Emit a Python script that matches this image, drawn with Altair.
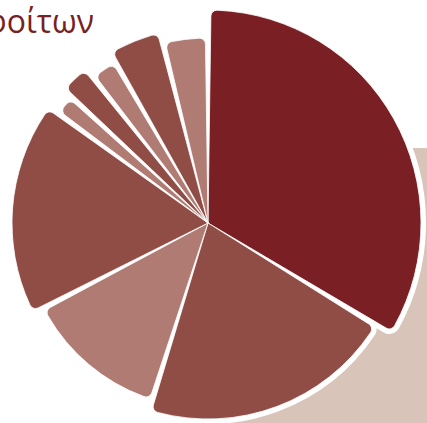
import altair as alt
import pandas as pd
import math

# --- data ---
categories = ["Α", "Β", "Γ", "Δ", "Ε", "Ζ", "Η", "Θ", "Ι"]
values = [33.6, 21.1, 12.5, 17.6, 1.8, 2.5, 2.3, 4.4, 3.9]
groups = ["dark", "mid", "light", "mid", "light", "mid", "light", "mid", "light"]
title_text = "αποφοίτων"

df = pd.DataFrame({
    "cat": categories,
    "value": values,
    "group": groups,
    "idx": list(range(len(categories))),
})

group_domain = ["dark", "mid", "light"]
color_scale = alt.Scale(domain=group_domain, range=["#7a1f23", "#8f4d46", "#b07b72"])
theta_scale = alt.Scale(domain=[0, 1], range=[0, 2 * math.pi])

CX, CY = 208, 223

base = alt.Chart(df).transform_stack(
    stack="value", as_=["v0", "v1"], groupby=[],
    sort=[alt.SortField("idx", order="ascending")], offset="normalize",
).transform_calculate(
    r="datum.group == 'dark' ? 213 : (datum.group == 'mid' ? 196 : 185)"
).encode(
    theta=alt.Theta("v0:Q", scale=theta_scale, stack=None),
    theta2="v1:Q",
    radius=alt.Radius("r:Q", scale=None),
    x=alt.value(CX),
    y=alt.value(CY),
)

halo = base.mark_arc(
    fill="white", stroke="white", strokeWidth=10, strokeJoin="round",
    padAngle=0.028, cornerRadius=6,
)

slices = base.mark_arc(
    padAngle=0.028, cornerRadius=6, stroke="white", strokeWidth=0.8,
).encode(
    color=alt.Color("group:N", scale=color_scale, legend=None),
)

bg = alt.Chart(pd.DataFrame({"a": [0]})).mark_rect(color="#d9c4ba").encode(
    x=alt.value(210), x2=alt.value(440), y=alt.value(148), y2=alt.value(440),
)

title = alt.Chart(pd.DataFrame({"a": [0]})).mark_text(
    align="right", baseline="alphabetic", font="Open Sans", fontSize=32,
    color="#7a1f23",
).encode(
    x=alt.value(94), y=alt.value(33), text=alt.value(title_text),
)

chart = alt.layer(bg, halo, slices, title).properties(
    width=427, height=423, padding=0, autosize=alt.AutoSizeParams(type="none"),
).configure_view(strokeWidth=0)

chart.save("out.html", embed_options={"renderer": "svg", "actions": False})
